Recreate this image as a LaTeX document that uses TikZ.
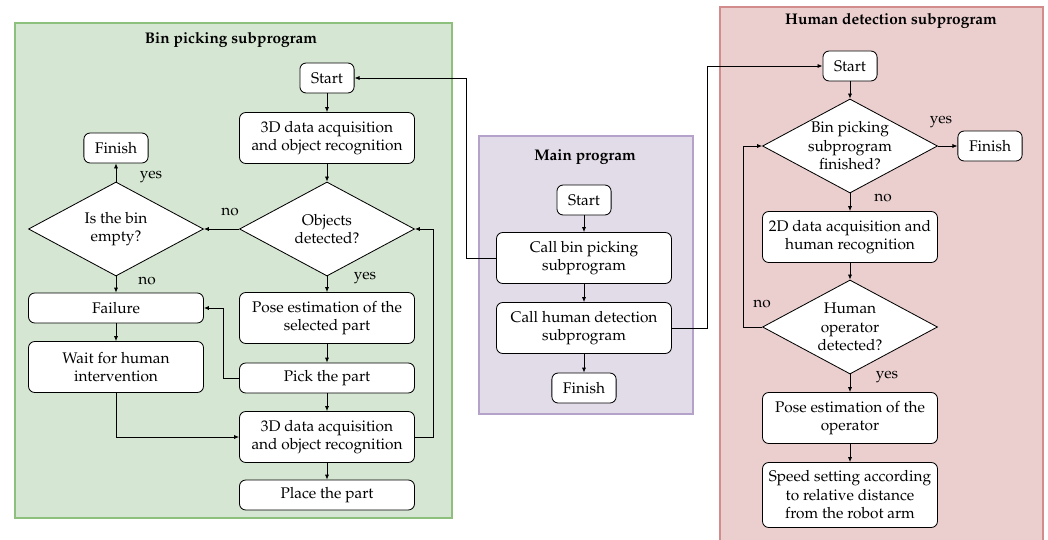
\documentclass[tikz,border=0pt]{standalone}
\usepackage[T1]{fontenc}
\usepackage{mathpazo}
\usetikzlibrary{shapes.geometric,arrows.meta}
\definecolor{gfill}{RGB}{213,230,210}
\definecolor{gline}{RGB}{140,192,124}
\definecolor{pfill}{RGB}{226,220,232}
\definecolor{pline}{RGB}{180,162,202}
\definecolor{rfill}{RGB}{235,207,207}
\definecolor{rline}{RGB}{210,140,140}
\tikzset{
  procbox/.style={draw, fill=white, rounded corners=4.5pt, line width=0.6pt, align=center,
    minimum width=126pt, minimum height=36.7pt, inner sep=1pt, font=\fontsize{11.1}{13.3}\selectfont},
  onebox/.style={procbox, minimum height=21.6pt},
  threebox/.style={procbox, minimum height=46.8pt},
  termbox/.style={procbox, minimum width=0pt, minimum height=21.6pt, inner xsep=8pt},
  decision/.style={draw, fill=white, diamond, shape aspect=1.85, line width=0.6pt, align=center,
    minimum width=126pt, minimum height=67.7pt, inner sep=0pt, font=\fontsize{11.1}{13.3}\selectfont},
  flow/.style={line width=0.6pt, -{Latex[length=3.6pt,width=3pt]}},
  lbl/.style={font=\fontsize{11.1}{13.3}\selectfont, inner sep=0pt},
  title/.style={font=\bfseries\fontsize{11.1}{13.3}\selectfont, inner sep=0pt},
}
\begin{document}
\begin{tikzpicture}[x=0.72pt, y=-0.72pt]
\clip (0,0) rectangle (1048,539);
\fill[white] (0,0) rectangle (1048,539);
% containers
\draw[fill=gfill, draw=gline, line width=0.8pt] (15,23) rectangle (452,518);
\draw[fill=pfill, draw=pline, line width=0.8pt] (479,136) rectangle (693,414);
\draw[fill=rfill, draw=rline, line width=0.8pt] (720,7) rectangle (1043,560);
\node[title] (tB) at (231,40) {Bin picking subprogram};
\node[title] (tM) at (585,157) {Main program};
\node[title] (tH) at (891,21) {Human detection subprogram};
% bin picking
\node[termbox] (sB) at (327,78) {Start};
\node[procbox] (d1) at (327,138) {3D data acquisition\\and object recognition};
\node[decision] (obj) at (327,229) {Objects\\detected?};
\node[decision] (emp) at (116,229) {Is the bin\\empty?};
\node[termbox] (fB) at (116,148) {Finish};
\node[onebox] (fail) at (116,308) {Failure};
\node[procbox] (wait) at (116,367) {Wait for human\\intervention};
\node[procbox] (pose) at (327,318) {Pose estimation of the\\selected part};
\node[onebox] (pick) at (327,378) {Pick the part};
\node[procbox] (d2) at (327,437) {3D data acquisition\\and object recognition};
\node[onebox] (place) at (327,495) {Place the part};
\draw[flow] (sB) -- (d1);
\draw[flow] (d1) -- (obj);
\draw[flow] (obj.west) -- (emp.east);
\draw[flow] (emp.north) -- (fB);
\draw[flow] (emp.south) -- (fail);
\draw[flow] (obj.south) -- (pose);
\draw[flow] (pose) -- (pick);
\draw[flow] (pick) -- (d2);
\draw[flow] (d2) -- (place);
\draw[flow] (fail) -- (wait);
\draw[flow] (wait.south) |- (d2.west);
\coordinate (c1) at (223,378);
\draw[flow] (pick.west) -- (c1) |- (fail.east);
\coordinate (c2) at (433,437);
\draw[flow] (d2.east) -- (c2) |- (obj.east);
\node[lbl] (l1) at (151,177) {yes};
\node[lbl] (l2) at (230,212) {no};
\node[lbl] (l3) at (365,278) {yes};
\node[lbl] (l4) at (147,281) {no};
% main
\node[termbox] (sM) at (584,200) {Start};
\node[procbox] (cb) at (584,258) {Call bin picking\\subprogram};
\node[procbox] (ch) at (584,328) {Call human detection\\subprogram};
\node[termbox] (fM) at (584,388) {Finish};
\draw[flow] (sM) -- (cb);
\draw[flow] (cb) -- (ch);
\draw[flow] (ch) -- (fM);
\coordinate (c3) at (466,258);
\draw[flow] (cb.west) -- (c3) |- (sB.east);
\coordinate (c4) at (707,328);
% human detection
\node[termbox] (sH) at (850,66) {Start};
\node[decision] (bf) at (850,146) {Bin picking\\subprogram\\finished?};
\node[termbox] (fH) at (990,146) {Finish};
\node[procbox] (d2d) at (850,237) {2D data acquisition and\\human recognition};
\node[decision] (hum) at (850,327) {Human\\operator\\detected?};
\node[procbox] (po) at (850,418) {Pose estimation of the\\operator};
\node[threebox] (sp) at (850,495) {Speed setting according\\to relative distance\\from the robot arm};
\draw[flow] (ch.east) -- (c4) |- (sH.west);
\draw[flow] (sH) -- (bf);
\draw[flow] (bf.east) -- (fH);
\draw[flow] (bf.south) -- (d2d);
\draw[flow] (d2d) -- (hum);
\draw[flow] (hum.south) -- (po);
\draw[flow] (po) -- (sp);
\coordinate (c5) at (743,327);
\draw[flow] (hum.west) -- (c5) |- (bf.west);
\node[lbl] (l5) at (941,122) {yes};
\node[lbl] (l6) at (883,198) {no};
\node[lbl] (l7) at (762,304) {no};
\node[lbl] (l8) at (887,377) {yes};
\end{tikzpicture}
\end{document}
